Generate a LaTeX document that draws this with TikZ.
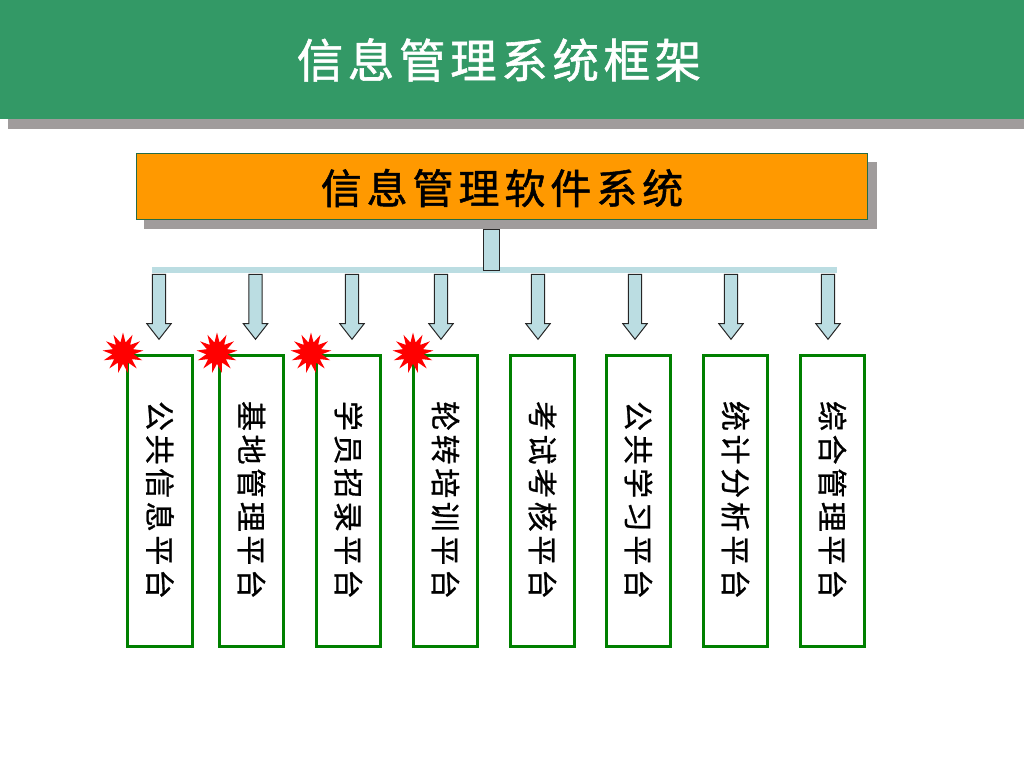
\documentclass[tikz,border=0pt]{standalone}
\usepackage{fontspec}
\newfontfamily\cjktitle[LetterSpace=10,FakeBold=1.2]{Noto Sans CJK SC}
\newfontfamily\cjksoft[LetterSpace=12,FakeBold=1.2]{Noto Sans CJK SC}
\newfontfamily\cjkbox[LetterSpace=12,FakeBold=0.8]{Noto Sans CJK SC}
\usetikzlibrary{shapes.geometric,shapes.arrows}
\definecolor{headgreen}{HTML}{339966}
\definecolor{shadowgray}{HTML}{A09C9C}
\definecolor{barblue}{HTML}{BBDDE2}
\definecolor{boxorange}{HTML}{FF9900}
\definecolor{boxgreen}{HTML}{008000}
\tikzset{
  shadowbox/.style={draw=none,fill=shadowgray,inner sep=0pt},
  platform/.style={draw=boxgreen,line width=2.8pt,fill=white,minimum width=64.5pt,minimum height=291pt,inner sep=0pt},
  downarrow/.style={single arrow,draw=black!85,line width=1pt,fill=barblue,inner xsep=0pt,inner ysep=6.2pt,
    single arrow head extend=5.5pt,single arrow tip angle=76,single arrow head indent=0pt,
    minimum height=65pt,rotate=-90,anchor=center},
  burst/.style={star,star points=13,star point ratio=1.9,fill=red,draw=none,minimum size=41pt,inner sep=0pt},
}
\begin{document}
\begin{tikzpicture}[x=1pt,y=-1pt]
        \useasboundingbox (0,0) rectangle (1024,768);
        % header
        \node[shadowbox,minimum width=1016pt,minimum height=119pt] (headshadow) at (516,69.5) {};
        \node[draw=none,fill=headgreen,minimum width=1024pt,minimum height=119pt,inner sep=0pt] (header) at (512,59.5) {};
        \node[text=white] (title) at (499,60) {\cjktitle\fontsize{46.5}{46.5}\selectfont 信息管理系统框架};
        % software box
        \node[shadowbox,minimum width=733pt,minimum height=67pt] (softshadow) at (510.5,195) {};
        \node[draw=headgreen!70!black,line width=.8pt,fill=boxorange,minimum width=731pt,minimum height=66pt,inner sep=0pt] (soft) at (502,186) {};
        \node (softlabel) at (502,188) {\cjksoft\fontsize{41}{41}\selectfont 信息管理软件系统};
        % bar and stem
        \node[fill=barblue,minimum width=685pt,minimum height=6pt,inner sep=0pt] (bar) at (494.5,270) {};
        \node[draw=black!85,line width=1pt,fill=barblue,minimum width=16pt,minimum height=41pt,inner sep=0pt] (stem) at (491,249.5) {};
        % platforms
        \foreach \x/\ax/\nm/\txt in {
            160/159/a/公共信息平台,
            251.5/255.5/b/基地管理平台,
            348.5/352/c/学员招录平台,
            445.5/441/d/轮转培训平台,
            542.5/538/e/考试考核平台,
            638.5/635/f/公共学习平台,
            735.5/731/g/统计分析平台,
            832.5/828/h/综合管理平台}
        {
            \node[downarrow] (arrow\nm) at (\ax,302.5) {};
            \node[platform] (plat\nm) at (\x,501) {};
            \node[rotate=-90] (label\nm) at (\x,500) {\cjkbox\fontsize{30}{30}\selectfont\txt};
        }
        % stars
        \foreach \x/\nm in {123/a,217/b,311/c,413/d}
        \node[burst] (star\nm) at (\x,353) {};
    \end{tikzpicture}
\end{document}
